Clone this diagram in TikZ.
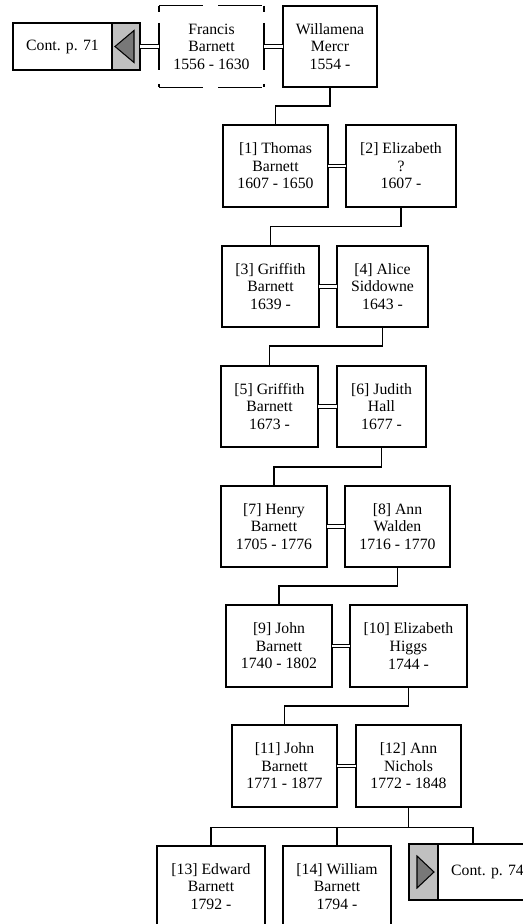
\documentclass[tikz,border=0pt]{standalone}
\usepackage{fontspec}
\setmainfont{Liberation Serif}
\usepackage{tikz}
\usetikzlibrary{positioning, calc}
\definecolor{ContGray}{RGB}{192,192,192}
\definecolor{TriGray}{RGB}{120,120,120}

\begin{document}
\begin{tikzpicture}[x=0.75pt, y=-0.75pt,
          person/.style={rectangle, draw, line width=1.3pt, outer sep=0pt,
                         minimum height=61pt, align=center,
                         font=\fontsize{11.8}{13.2}\selectfont},
          contbox/.style={rectangle, outer sep=0pt, minimum width=74.25pt,
                          font=\fontsize{11.8}{13.2}\selectfont},
          greybox/.style={rectangle, fill=ContGray, draw, line width=0.8pt,
                          outer sep=0pt, minimum width=21pt},
          contframe/.style={draw, line width=2pt},
          tri/.style={draw, line width=0.8pt, fill=TriGray},
          wed/.style={double, double distance=1.8pt, line width=0.7pt},
          line/.style={line width=1.2pt},
          hedge/.style={line width=0.9pt, dash pattern=on 33pt off 11.25pt},
          vedge/.style={line width=0.9pt, dash pattern=on 4.5pt off 8.25pt on 35.25pt off 10.5pt}
        ]
        \useasboundingbox (0,0) rectangle (523,924);

        % Row 0: Francis + Willamena, with continuation box
        \node[contbox, minimum height=35.25pt] (cont71) at (62.5,46.5) {Cont. p. 71};
        \node[greybox, minimum height=35.25pt, right=0pt of cont71] (tri71) {};
        \draw[tri] ([shift={(-11,0)}]tri71.center) -- ([shift={(8,-16)}]tri71.center)
              -- ([shift={(8,16)}]tri71.center) -- cycle;
        \draw[contframe] (cont71.north west) rectangle (tri71.south east);

        \node[person, draw=none, minimum width=78.75pt] (francis) at (211.5,46.5)
              {Francis\\Barnett\\1556 - 1630};
        \draw[hedge] (francis.north west) -- (francis.north east);
        \draw[hedge] (francis.south west) -- (francis.south east);
        \draw[vedge] (francis.north west) -- (francis.south west);
        \draw[vedge] (francis.north east) -- (francis.south east);

        \node[person, minimum width=70.5pt] (willamena) at (330,46.5)
              {Willamena\\Mercr\\1554 -};

        % Generations
        \node[person, minimum width=78.75pt] (thomas) at (275.5,166)
              {[1] Thomas\\Barnett\\1607 - 1650};
        \node[person, minimum width=82.5pt] (elizabeth) at (401,166)
              {[2] Elizabeth\\?\\1607 -};

        \node[person, minimum width=72.75pt] (griffith3) at (270.5,286.5)
              {[3] Griffith\\Barnett\\1639 -};
        \node[person, minimum width=68.25pt] (alice) at (382.5,286.5)
              {[4] Alice\\Siddowne\\1643 -};

        \node[person, minimum width=72.75pt] (griffith5) at (269.5,406.5)
              {[5] Griffith\\Barnett\\1673 -};
        \node[person, minimum width=66.75pt] (judith) at (381.5,406.5)
              {[6] Judith\\Hall\\1677 -};

        \node[person, minimum width=79.5pt] (henry) at (274,526.5)
              {[7] Henry\\Barnett\\1705 - 1776};
        \node[person, minimum width=78.75pt] (annw) at (397.5,526.5)
              {[8] Ann\\Walden\\1716 - 1770};

        \node[person, minimum width=79.5pt] (john9) at (279,646)
              {[9] John\\Barnett\\1740 - 1802};
        \node[person, minimum width=87.75pt] (higgs) at (408.5,646)
              {[10] Elizabeth\\Higgs\\1744 -};

        \node[person, minimum width=78.75pt] (john11) at (284.5,766)
              {[11] John\\Barnett\\1771 - 1877};
        \node[person, minimum width=78.75pt] (nichols) at (408.5,766)
              {[12] Ann\\Nichols\\1772 - 1848};

        % Children
        \node[person, minimum width=81pt] (edward) at (211,886.5)
              {[13] Edward\\Barnett\\1792 -};
        \node[person, minimum width=81pt] (william) at (337,886.5)
              {[14] William\\Barnett\\1794 -};

        \node[greybox, minimum height=42pt, minimum width=21.75pt] (tri74) at (423.5,872) {};
        \node[contbox, minimum height=42pt, right=0pt of tri74] (cont74) {Cont. p. 74};
        \draw[tri] ([shift={(10.5,0)}]tri74.center) -- ([shift={(-6.5,-16)}]tri74.center)
              -- ([shift={(-6.5,16)}]tri74.center) -- cycle;
        \draw[contframe] (tri74.north west) rectangle (cont74.south east);
        \coordinate (top74) at ($(tri74.north west)!.5!(cont74.north east)$);

        % Marriages
        \draw[wed] (tri71.east) -- (francis.west);
        \draw[wed] (francis.east) -- (willamena.west);
        \draw[wed] (thomas.east) -- (elizabeth.west);
        \draw[wed] (griffith3.east) -- (alice.west);
        \draw[wed] (griffith5.east) -- (judith.west);
        \draw[wed] (henry.east) -- (annw.west);
        \draw[wed] (john9.east) -- (higgs.west);
        \draw[wed] (john11.east) -- (nichols.west);

        % Descent
        \draw[line] (willamena.south) -- ++(0,19) -| (thomas.north);
        \draw[line] (elizabeth.south) -- ++(0,20) -| (griffith3.north);
        \draw[line] (alice.south) -- ++(0,19) -| (griffith5.north);
        \draw[line] (judith.south) -- ++(0,20) -| (henry.north);
        \draw[line] (annw.south) -- ++(0,19) -| (john9.north);
        \draw[line] (higgs.south) -- ++(0,19.5) -| (john11.north);
        \draw[line] (nichols.south) -- ++(0,21) coordinate (fork);
        \draw[line] (edward.north) |- (fork) -| (top74);
        \draw[line] (william.north) |- (fork);
      \end{tikzpicture}
\end{document}
